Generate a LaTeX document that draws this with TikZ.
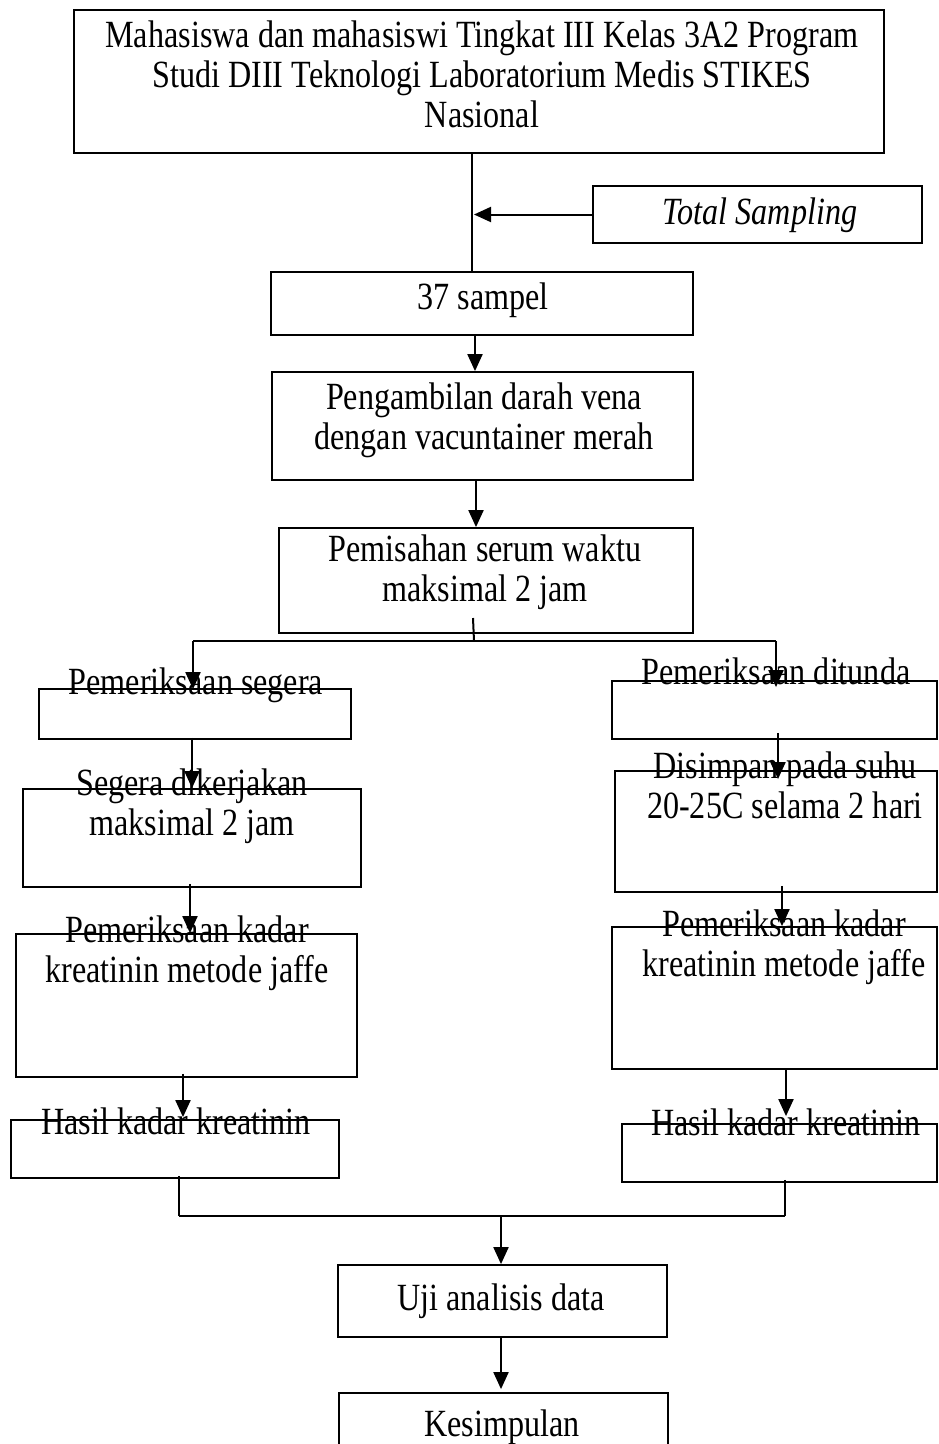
\documentclass[tikz,border=0pt]{standalone}
\usepackage{fontspec}
\setmainfont{Liberation Serif}[FakeStretch=0.835]
\usetikzlibrary{arrows.meta,calc}

\tikzset{
  box/.style={draw, line width=1.8pt, inner sep=0pt},
  txt/.style={align=center, anchor=base, inner sep=0pt, font=\fontsize{38.5}{40}\selectfont},
  arr/.style={line width=2pt, -{Triangle[length=17pt,width=15pt]}},
  con/.style={line width=2pt}
}

\begin{document}
\begin{tikzpicture}[x=1pt,y=-1pt]
    \clip (0,0) rectangle (938,1444);

    % boxes
    \node[box, minimum width=810pt, minimum height=143pt] (top)    at (479,81.5)   {};
    \node[box, minimum width=329pt, minimum height=57pt]  (total)  at (757.5,214.5) {};
    \node[box, minimum width=422pt, minimum height=63pt]  (sampel) at (482,303.5)  {};
    \node[box, minimum width=421pt, minimum height=108pt] (ambil)  at (482.5,426)  {};
    \node[box, minimum width=414pt, minimum height=105pt] (pisah)  at (486,580.5)  {};
    \node[box, minimum width=312pt, minimum height=50pt]  (segera) at (195,714)    {};
    \node[box, minimum width=325pt, minimum height=58pt]  (tunda)  at (774.5,710)  {};
    \node[box, minimum width=338pt, minimum height=98pt]  (kerja)  at (192,838)    {};
    \node[box, minimum width=322pt, minimum height=121pt] (simpan) at (776,831.5)  {};
    \node[box, minimum width=341pt, minimum height=143pt] (kadarL) at (186.5,1005.5) {};
    \node[box, minimum width=325pt, minimum height=142pt] (kadarR) at (774.5,998)  {};
    \node[box, minimum width=328pt, minimum height=58pt]  (hasilL) at (175,1149)   {};
    \node[box, minimum width=315pt, minimum height=58pt]  (hasilR) at (779.5,1153) {};
    \node[box, minimum width=329pt, minimum height=72pt]  (uji)    at (502.5,1301) {};
    \node[box, minimum width=329pt, minimum height=67pt]  (kesim)  at (503.5,1426.5) {};

    % texts (base = last line)
    \node[txt] (topT)    at (482,127)  {Mahasiswa dan mahasiswi Tingkat III Kelas 3A2 Program\\Studi DIII Teknologi Laboratorium Medis STIKES\\Nasional};
    \node[txt] (totalT)  at (760,224)  {\itshape Total Sampling};
    \node[txt] (sampelT) at (483,309)  {37 sampel};
    \node[txt] (ambilT)  at (484,449)  {Pengambilan darah vena\\dengan vacuntainer merah};
    \node[txt] (pisahT)  at (485,601)  {Pemisahan serum waktu\\maksimal 2 jam};
    \node[txt] (segeraT) at (196,694)  {Pemeriksaan segera};
    \node[txt] (tundaT)  at (776,684)  {Pemeriksaan ditunda};
    \node[txt] (kerjaT)  at (192,835)  {Segera dikerjakan\\maksimal 2 jam};
    \node[txt] (simpanT) at (785,818)  {Disimpan pada suhu\\20-25C selama 2 hari};
    \node[txt] (kadarLT) at (187,982)  {Pemeriksaan kadar\\kreatinin metode jaffe};
    \node[txt] (kadarRT) at (784,976)  {Pemeriksaan kadar\\kreatinin metode jaffe};
    \node[txt] (hasilLT) at (176,1134) {Hasil kadar kreatinin};
    \node[txt] (hasilRT) at (786,1135) {Hasil kadar kreatinin};
    \node[txt] (ujiT)    at (501,1310) {Uji analisis data};
    \node[txt] (kesimT)  at (502,1436) {Kesimpulan};

    % junctions
    \coordinate (tJoin) at (472,153);
    \coordinate (tSide) at (472,214.5);
    \coordinate (split) at (474,641);
    \coordinate (sL) at (193,641);
    \coordinate (sR) at (776,641);
    \coordinate (jL) at (179,1216);
    \coordinate (jR) at (785,1216);
    \coordinate (jM) at (501,1216);

    % connectors
    \draw[con] (tJoin) -- (tJoin |- sampel.north);
    \draw[arr] (total.west) -- ([xshift=2pt]tSide);
    \draw[arr] (sampel.south -| 475,0) -- (ambil.north -| 475,0);
    \draw[arr] (ambil.south -| 476,0) -- (pisah.north -| 476,0);
    \draw[con] (473,618) -- (split);
    \draw[con] (sL) -- (sR);
    \draw[arr] (sL) -- ([yshift=-1pt]sL |- segera.north);
    \draw[arr] (sR) -- ([yshift=-7pt]sR |- tunda.north);
    \draw[arr] ([yshift=2pt]segera.south -| 192,0) -- (kerja.north -| 192,0);
    \draw[arr] ([yshift=7pt]tunda.south -| 778,0) -- ([yshift=-9pt]simpan.north -| 778,0);
    \draw[arr] ([yshift=4pt]kerja.south -| 190,0) -- (kadarL.north -| 190,0);
    \draw[arr] ([yshift=7pt]simpan.south -| 782,0) -- (kadarR.north -| 782,0);
    \draw[arr] ([yshift=4pt]kadarL.south -| 183,0) -- ([yshift=2pt]hasilL.north -| 183,0);
    \draw[arr] (kadarR.south -| 786,0) -- ([yshift=7pt]hasilR.north -| 786,0);
    \draw[con] ([yshift=3pt]hasilL.south -| jL) -- (jL);
    \draw[con] ([yshift=3pt]hasilR.south -| jR) -- (jR);
    \draw[con] (jL) -- (jR);
    \draw[arr] (jM) -- (jM |- uji.north);
    \draw[arr] (uji.south -| jM) -- ([yshift=3pt]kesim.north -| jM);
\end{tikzpicture}
\end{document}
